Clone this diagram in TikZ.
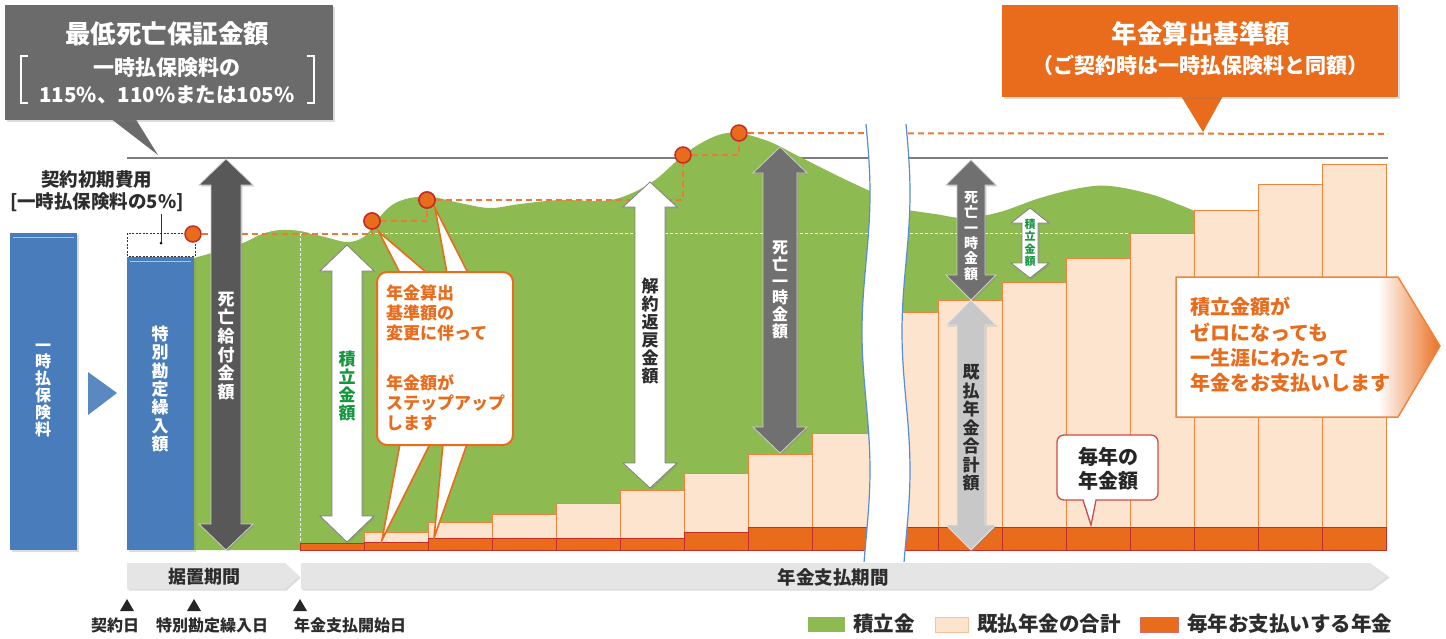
\documentclass[tikz,border=0pt]{standalone}
\usepackage{fontspec}
\setmainfont{Noto Sans CJK JP}
\usetikzlibrary{shadows}
\definecolor{grn}{RGB}{142,186,82}
\definecolor{pnk}{RGB}{252,228,206}
\definecolor{orgline}{RGB}{240,132,60}
\definecolor{org}{RGB}{233,108,29}
\definecolor{dred}{RGB}{196,44,38}
\definecolor{blu}{RGB}{72,124,187}
\definecolor{callgray}{RGB}{107,107,107}
\definecolor{gline}{RGB}{125,125,125}
\definecolor{dkarr}{RGB}{88,88,88}
\definecolor{mdarr}{RGB}{112,112,112}
\definecolor{ltarr}{RGB}{200,200,200}
\definecolor{pgray}{RGB}{229,229,229}
\definecolor{txtgreen}{RGB}{20,150,60}
\definecolor{txtdark}{RGB}{45,45,45}
\definecolor{bluline}{RGB}{90,140,210}
\newcommand\dblarr[7]{%
  \path[#7] (#1,#2) -- ({#1+#5},{#2+#6}) -- ({#1+#4},{#2+#6}) -- ({#1+#4},{#3-#6}) -- ({#1+#5},{#3-#6}) -- (#1,#3) -- ({#1-#5},{#3-#6}) -- ({#1-#4},{#3-#6}) -- ({#1-#4},{#2+#6}) -- ({#1-#5},{#2+#6}) -- cycle;}
\tikzset{
  shd/.style={drop shadow={opacity=0.28, shadow xshift=1.6pt, shadow yshift=-1.6pt}},
  vt/.style={align=center, inner sep=0pt},
  dot/.style={circle, fill=org, draw=dred, line width=1.5pt, minimum size=16pt, inner sep=0pt},
  odash/.style={draw=org!90!white, line width=2pt, dash pattern=on 6pt off 4pt},
  pinkbar/.style={fill=pnk, draw=orgline, line width=1pt},
  orgbar/.style={fill=org, draw=dred, line width=1pt},
  wdash/.style={draw=white, line width=0.8pt, dash pattern=on 3pt off 2pt},
  otxt/.style={anchor=west, inner sep=0pt, text=org, font=\bfseries\fontsize{17}{20}\selectfont},
  rtxt/.style={anchor=west, inner sep=0pt, text=org, font=\bfseries\fontsize{20}{24}\selectfont},
  lbl/.style={inner sep=0pt, text=txtdark, font=\bfseries\fontsize{16}{18}\selectfont},
  leg/.style={anchor=west, inner sep=0pt, text=txtdark, font=\bfseries\fontsize{20.5}{22}\selectfont},
}
\begin{document}
\begin{tikzpicture}[x=1pt,y=-1pt]
\useasboundingbox (0,0) rectangle (1446,638);

% ---- top-left grey callout
\fill[callgray] (110,118) -- (135,118) -- (158,155) -- cycle;
\path[fill=callgray, shd] (5,5) rectangle (333,120);
\node[inner sep=0pt, text=white, font=\bfseries\fontsize{25.5}{28}\selectfont] (ttl1) at (167,34) {最低死亡保証金額};
\node[inner sep=0pt, text=white, font=\bfseries\fontsize{21}{23}\selectfont] (ttl2) at (167,68) {一時払保険料の};
\node[inner sep=0pt, text=white, font=\bfseries\fontsize{20.5}{23}\selectfont] (ttl3) at (167,95) {115\%、110\%または105\%};
\draw[white, line width=2pt] (28,56) -- (21,56) -- (21,103) -- (28,103);
\draw[white, line width=2pt] (307,56) -- (314,56) -- (314,103) -- (307,103);

% ---- top-right orange callout
\fill[org] (1181,96) -- (1223,96) -- (1203,132) -- cycle;
\path[fill=org, shd] (1002,5) rectangle (1398,97);
\node[inner sep=0pt, text=white, font=\bfseries\fontsize{25.5}{28}\selectfont] (ttl4) at (1201,34) {年金算出基準額};
\node[inner sep=0pt, text=white, font=\bfseries\fontsize{21}{23}\selectfont] (ttl5) at (1200,65) {（ご契約時は一時払保険料と同額）};

% ---- grey reference line
\coordinate (gl1) at (127,158);
\coordinate (gl2) at (1388,158);
\draw[gline, line width=2pt] (gl1) -- (gl2);

% ---- green area
\fill[grn] (194,550) -- plot[smooth, tension=0.6] coordinates {(194,258) (215,252) (243,243) (262,234) (280,230) (300,231) (325,237) (348,242) (365,236) (378,219) (392,205) (410,198) (432,197) (460,203) (490,208) (520,204) (560,200) (600,201) (625,196) (655,180) (690,150) (727,133) (765,140) (800,157) (840,177) (870,191)} -- (870,550) -- cycle;
\fill[grn] (900,550) -- plot[smooth, tension=0.6] coordinates {(900,209) (935,214) (965,218) (1000,212) (1040,198) (1080,188) (1110,186) (1150,194) (1180,205) (1197,212)} -- (1197,550) -- cycle;
\draw[wdash] (300,233) -- (870,233);
\draw[wdash] (300,233) -- (300,543);
\draw[wdash] (900,233) -- (1130,233);

% ---- annuity bars
\draw[orgbar] (300,543) rectangle (364,550);
\foreach \x/\p/\o/\w in {364/532/542/64, 428/522/538/64, 492/514/538/64, 556/503/538/64, 620/490/538/64, 684/473/532/64, 748/454/527/64, 812/433/527/60}{
  \draw[pinkbar] (\x,\p) rectangle ({\x+\w},\o);
  \draw[orgbar] (\x,\o) rectangle ({\x+\w},550);
}
\foreach \x/\p/\w in {898/312/40, 938/300/64, 1002/282/64, 1066/258/64, 1130/233/64, 1194/210/64, 1258/184/64, 1322/164/64}{
  \draw[pinkbar] (\x,\p) rectangle ({\x+\w},527);
  \draw[orgbar] (\x,527) rectangle ({\x+\w},550);
}

% ---- blue bars
\path[fill=blu, shd] (10,233) rectangle (77,550);
\draw[white!55!blu, line width=1pt] (13,237) -- (74,237);
\node[vt, text=white, font=\bfseries\fontsize{16}{16.8}\selectfont] (t1) at (43,390) {一\\時\\払\\保\\険\\料};
\fill[blu!90!white] (88,372) -- (117,393) -- (88,415) -- cycle;
\path[fill=blu, shd] (127,257) rectangle (194,550);
\draw[white!55!blu, line width=1pt] (130,261) -- (191,261);
\node[vt, text=white, font=\bfseries\fontsize{17}{18.3}\selectfont] (t2) at (160,389) {特\\別\\勘\\定\\繰\\入\\額};
\draw[black!80, line width=0.8pt, dash pattern=on 2pt off 1.5pt] (127,233) rectangle (195,256);
\fill[black] (161,243) circle (1.5);
\draw[black!80, line width=0.6pt] (161,243) -- (161,214);
\node[lbl, font=\bfseries\fontsize{18.5}{20}\selectfont] (cost1) at (97,180) {契約初期費用};
\node[lbl, font=\bfseries\fontsize{18.5}{20}\selectfont] (cost2) at (97,202) {[一時払保険料の5\%]};

% ---- orange dashed level line and circles
\node[dot] (c1) at (193,234) {};
\node[dot] (c2) at (372,221) {};
\node[dot] (c3) at (427,200) {};
\node[dot] (c4) at (683,155) {};
\node[dot] (c5) at (739,133) {};
\coordinate (dend) at (1388,134);
\draw[odash] (c1) -| (c2);
\draw[odash] (c2) -| (c3);
\draw[odash] (c3) -| (c4);
\draw[odash] (c4) -| (c5);
\draw[odash] (c5) -- (dend);

% ---- double arrows
\dblarr{226}{159}{550}{15}{27}{26}{fill=dkarr, draw=white!80!black, line width=0.8pt, shd}
\node[vt, text=white, font=\bfseries\fontsize{17}{18.7}\selectfont] (t3) at (226,346) {死\\亡\\給\\付\\金\\額};
\dblarr{347}{245}{542}{15}{27}{26}{fill=white, draw=gray, line width=0.8pt, shd}
\node[vt, text=txtgreen, font=\bfseries\fontsize{17}{18}\selectfont] (t4) at (347,386) {積\\立\\金\\額};
\dblarr{650}{182}{488}{15}{27}{25}{fill=white, draw=gray, line width=0.8pt, shd}
\node[vt, text=txtdark, font=\bfseries\fontsize{17}{18}\selectfont] (t5) at (650,331) {解\\約\\返\\戻\\金\\額};
\dblarr{780}{147}{453}{17}{27}{26}{fill=mdarr, draw=white!80!black, line width=0.8pt, shd}
\node[vt, text=white, font=\bfseries\fontsize{16}{16.8}\selectfont] (t6) at (780,290) {死\\亡\\一\\時\\金\\額};
\dblarr{971}{160}{300}{14}{25}{25}{fill=mdarr, draw=white!80!black, line width=0.8pt, shd}
\node[vt, text=white, font=\bfseries\fontsize{14}{15.3}\selectfont] (t7) at (971,236) {死\\亡\\一\\時\\金\\額};
\dblarr{971}{300}{550}{14}{25}{25}{fill=ltarr, draw=white!90!black, line width=0.8pt, shd}
\node[vt, text=txtdark, font=\bfseries\fontsize{17}{18.5}\selectfont] (t8) at (971,428) {既\\払\\年\\金\\合\\計\\額};
\dblarr{1030}{208}{278}{8}{19}{15}{fill=white, draw=gray, line width=0.8pt, shd}
\node[vt, text=txtgreen, font=\bfseries\fontsize{11}{12.5}\selectfont] (t9) at (1030,243) {積\\立\\金\\額};

% ---- step-up callout
\foreach \a/\b/\c/\d/\e/\f in {400/273/379/232/427/273, 447/273/435/208/468/273, 400/444/382/540/430/444, 443/444/434/538/467/444}{
  \draw[fill=white, draw=org, line width=1.6pt, line join=miter] (\a,\b) -- (\c,\d) -- (\e,\f) -- cycle;
}
\draw[fill=white, draw=org, line width=2pt, rounded corners=10pt] (377,272) rectangle (513,445);
\node[otxt] (s1) at (386,293) {年金算出};
\node[otxt] (s2) at (386,313) {基準額の};
\node[otxt] (s3) at (386,333) {変更に伴って};
\node[otxt] (s4) at (386,383) {年金額が};
\node[otxt] (s5) at (386,403) {ステップアップ};
\node[otxt] (s6) at (386,423) {します};
\node[dot] at (c2) {};
\node[dot] at (c3) {};

% ---- break
\fill[white] plot[variable=\t, domain=124:562, samples=45] ({866+4*sin(1.3*(\t-124))},\t) -- plot[variable=\t, domain=562:124, samples=45] ({906+4*sin(1.3*(\t-124))},\t) -- cycle;
\draw[bluline, line width=1.2pt] plot[variable=\t, domain=124:562, samples=45] ({866+4*sin(1.3*(\t-124))},\t);
\draw[bluline, line width=1.2pt] plot[variable=\t, domain=124:562, samples=45] ({906+4*sin(1.3*(\t-124))},\t);

% ---- right pentagon callout
\begin{scope}
\clip (1176,277) -- (1398,277) -- (1440,346) -- (1398,417) -- (1176,417) -- cycle;
\fill[white] (1170,270) rectangle (1446,420);
\shade[left color=white, right color=org] (1378,270) rectangle (1442,420);
\end{scope}
\draw[orgline, line width=1.5pt, line join=miter] (1176,277) -- (1398,277) -- (1440,346) -- (1398,417) -- (1176,417) -- cycle;
\node[rtxt] (r1) at (1190,307) {積立金額が};
\node[rtxt] (r2) at (1190,332) {ゼロになっても};
\node[rtxt] (r3) at (1190,358) {一生涯にわたって};
\node[rtxt] (r4) at (1190,383) {年金をお支払いします};

% ---- yearly pension callout
\draw[fill=white, draw=dred!85, line width=1.3pt] (1083,500) [rounded corners=7pt] -- (1057,500) -- (1057,435) -- (1158,435) -- (1158,500) [sharp corners] -- (1096,500) -- (1091,525) -- cycle;
\node[inner sep=0pt, text=black!85, font=\bfseries\fontsize{20}{22}\selectfont] (m1) at (1108,457) {毎年の};
\node[inner sep=0pt, text=black!85, font=\bfseries\fontsize{20}{22}\selectfont] (m2) at (1108,481) {年金額};

% ---- period arrows
\path[fill=pgray, shd] (127,563) -- (285,563) -- (299,576) -- (285,589) -- (127,589) -- cycle;
\node[lbl, font=\bfseries\fontsize{18}{20}\selectfont] (p1) at (204,577) {据置期間};
\path[fill=pgray, shd] (301,563) -- (1370,563) -- (1388,576) -- (1370,589) -- (301,589) -- cycle;
\node[lbl, font=\bfseries\fontsize{18.5}{20}\selectfont] (p2) at (833,577) {年金支払期間};

% ---- date markers
\foreach \x in {127,194,300}{
  \fill[black!85] (\x,599) -- ({\x+7},611) -- ({\x-7},611) -- cycle;
}
\node[lbl] (d1) at (115,625) {契約日};
\node[lbl] (d2) at (212,625) {特別勘定繰入日};
\node[lbl] (d3) at (350,625) {年金支払開始日};

% ---- legend
\fill[grn] (808,617) rectangle (845,632);
\node[leg] (g1) at (853,624) {積立金};
\draw[fill=pnk, draw=orgline!50, line width=0.8pt] (935,617) rectangle (968,632);
\node[leg] (g2) at (977,624) {既払年金の合計};
\draw[fill=org, draw=dred!70, line width=0.8pt] (1140,617) rectangle (1178,632);
\node[leg] (g3) at (1187,624) {毎年お支払いする年金};
\end{tikzpicture}
\end{document}
